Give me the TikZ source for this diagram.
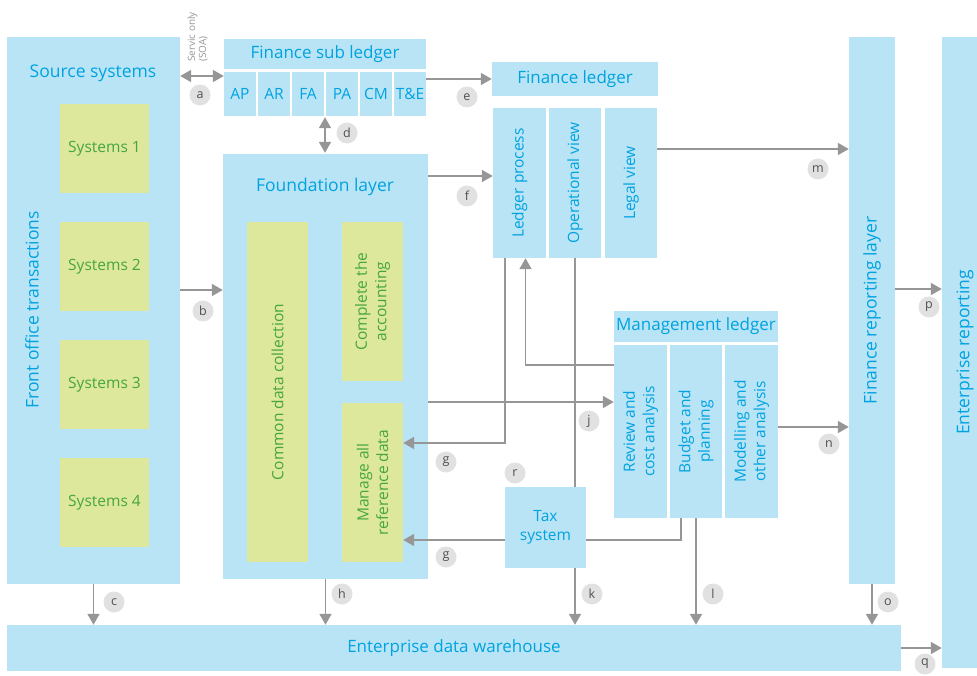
\documentclass[tikz,border=0pt]{standalone}
\usepackage{fontspec}
\setmainfont{Open Sans}
\usetikzlibrary{arrows.meta}
\definecolor{boxBlue}{RGB}{185,228,246}
\definecolor{txtBlue}{RGB}{0,163,224}
\definecolor{boxYel}{RGB}{222,232,156}
\definecolor{txtGreen}{RGB}{70,165,65}
\definecolor{arrGray}{RGB}{150,150,150}
\definecolor{circGray}{RGB}{225,225,225}
\tikzset{
	bluebox/.style={fill=boxBlue, inner sep=0pt, text=txtBlue, align=center,
		font=\fontsize{15.5}{19.5}\selectfont},
	yelbox/.style={fill=boxYel, inner sep=0pt, text=txtGreen, align=center,
		font=\fontsize{15.5}{19.5}\selectfont},
	title/.style={text=txtBlue, font=\fontsize{17.5}{21}\selectfont},
	vtxt/.style={rotate=90, align=center, font=\fontsize{15.5}{19.5}\selectfont},
	circ/.style={circle, fill=circGray, inner sep=0pt, minimum size=21pt,
		text={rgb,255:red,80;green,80;blue,80}, font=\fontsize{12.5}{14}\selectfont},
	arr/.style={draw=arrGray, line width=1.8pt, -{Triangle[length=11pt,width=12pt]}},
	darr/.style={draw=arrGray, line width=1.8pt,
		{Triangle[length=11pt,width=12pt]}-{Triangle[length=11pt,width=12pt]}},
	line/.style={draw=arrGray, line width=1.8pt}
}
\newcommand{\myLabel}[3]{
\node[circ] (#1) at (#2) {#3};
}

\begin{document}
\begin{tikzpicture}[x=1pt, y=-1pt]
	\useasboundingbox (0,0) rectangle (977,676);

	% source systems
	\node[bluebox, minimum width=173, minimum height=547] (src) at (93.5,310.5) {};
	\node[title] (srcT) at (93,73) {Source systems};
	\node[title, rotate=90] (fot) at (32,310) {Front office transactions};
	\foreach \i/\y in {1/148.5, 2/266.5, 3/384.5, 4/502.5}
		\node[yelbox, minimum width=89, minimum height=89] (sys\i) at (104.5,\y) {Systems \i};

	% finance sub ledger
	\node[bluebox, minimum width=202, minimum height=30, font=\fontsize{17}{21}\selectfont] (fsl) at (325,54) {Finance sub ledger};
	\foreach \n/\t [count=\i from 0] in {ap/AP, ar/AR, fa/FA, pa/PA, cm/CM, te/T\&E}
		\node[bluebox, minimum width=32, minimum height=44] (\n) at (240+34*\i,94) {\t};

	% finance ledger
	\node[bluebox, minimum width=166, minimum height=34, font=\fontsize{17}{21}\selectfont] (fl) at (575,79) {Finance ledger};
	\node[bluebox, minimum width=53, minimum height=150, label={[vtxt, text=txtBlue]center:Ledger process}] (lp) at (519.5,183) {};
	\node[bluebox, minimum width=52, minimum height=150, label={[vtxt, text=txtBlue]center:Operational view}] (ov) at (575,183) {};
	\node[bluebox, minimum width=52, minimum height=150, label={[vtxt, text=txtBlue]center:Legal view}] (lv) at (631,183) {};

	% foundation layer
	\node[bluebox, minimum width=205, minimum height=425] (fnd) at (325.5,366.5) {};
	\node[title] (fndT) at (325,187) {Foundation layer};
	\node[yelbox, minimum width=61, minimum height=340, label={[vtxt, text=txtGreen]center:Common data collection}] (cdc) at (277.5,392) {};
	\node[yelbox, minimum width=61, minimum height=159, label={[vtxt, text=txtGreen]center:Complete the\\accounting}] (cta) at (372.5,301.5) {};
	\node[yelbox, minimum width=61, minimum height=159, label={[vtxt, text=txtGreen]center:Manage all\\reference data}] (mrd) at (372.5,482.5) {};

	% management ledger
	\node[bluebox, minimum width=164, minimum height=31, font=\fontsize{17}{21}\selectfont] (ml) at (696,326.5) {Management ledger};
	\node[bluebox, minimum width=53, minimum height=173, label={[vtxt, text=txtBlue]center:Review and\\cost analysis}] (rca) at (640.5,431.5) {};
	\node[bluebox, minimum width=52, minimum height=173, label={[vtxt, text=txtBlue]center:Budget and\\planning}] (bp) at (696,431.5) {};
	\node[bluebox, minimum width=53, minimum height=173, label={[vtxt, text=txtBlue]center:Modelling and\\other analysis}] (moa) at (751.5,431.5) {};

	\node[bluebox, minimum width=81, minimum height=81] (tax) at (545.5,527.5) {Tax\\system};

	% reporting and warehouse
	\node[bluebox, minimum width=46, minimum height=547, label={[vtxt, text=txtBlue, font=\fontsize{17.5}{21}\selectfont]center:Finance reporting layer}] (frl) at (872,310.5) {};
	\node[bluebox, minimum width=46, minimum height=631, label={[vtxt, text=txtBlue, font=\fontsize{17.5}{21}\selectfont]center:Enterprise reporting}] (er) at (965,352.5) {};
	\node[bluebox, minimum width=894, minimum height=46, font=\fontsize{17}{21}\selectfont] (edw) at (454,648) {Enterprise data warehouse};

	\node[rotate=90, anchor=south west, align=left, text=arrGray, inner sep=0pt,
		font=\fontsize{10}{11}\selectfont] (soa) at (208,62) {Servic only\\(SOA)};

	% connectors
	\draw[darr] (src.east |- 0,76) -- (ap.west |- 0,76);
	\draw[arr] (te.east |- 0,79) -- (fl.west |- 0,79);
	\draw[darr, shorten <=1pt, shorten >=1pt] (fsl.center |- pa.south) -- (fsl.center |- fnd.north);
	\draw[arr] (src.east |- 0,290) -- (fnd.west |- 0,290);
	\draw[arr] (fnd.east |- 0,176) -- (lp.west |- 0,176);
	\draw[arr] (lv.east |- 0,149) -- (frl.west |- 0,149);
	\draw[arr] ([xshift=-14.5pt]lp.south) |- (mrd.east |- 0,443);
	\draw[arr] (rca.west |- 0,365) -| ([xshift=6pt]lp.south);
	\draw[arr] (fnd.east |- 0,402) -- (rca.west |- 0,402);
	\draw[line] (ov.south) -- (ov.south |- tax.north);
	\draw[arr] (ov.south |- tax.south) -- (ov.south |- edw.north);
	\draw[line] ([xshift=-15pt]bp.south) |- (tax.east |- 0,540);
	\draw[arr] (tax.west |- 0,540) -- (mrd.east |- 0,540);
	\draw[arr] (bp.south) -- (bp.south |- edw.north);
	\draw[arr] (moa.east |- 0,427) -- (frl.west |- 0,427);
	\draw[arr] (frl.south) -- (frl.south |- edw.north);
	\draw[arr] (frl.east |- 0,289) -- (er.west |- 0,289);
	\draw[arr] (edw.east) -- (er.west |- edw.east);
	\draw[arr] (src.south) -- (src.south |- edw.north);
	\draw[arr] (fnd.south) -- (fnd.south |- edw.north);

	% letters
	\myLabel{la}{200,95}{a}
	\myLabel{lb}{203,311}{b}
	\myLabel{lc}{114,602}{c}
	\myLabel{ld}{347,133}{d}
	\myLabel{le}{467,97}{e}
	\myLabel{lf}{467,196}{f}
	\myLabel{lg}{446,462}{g}
	\myLabel{lgg}{446,557}{g}
	\myLabel{lh}{342,594}{h}
	\myLabel{lj}{589,421}{j}
	\myLabel{lk}{592,594}{k}
	\myLabel{ll}{713,594}{l}
	\myLabel{lm}{818,169}{m}
	\myLabel{ln}{829,444}{n}
	\myLabel{lo}{888,602}{o}
	\myLabel{lp}{929,307}{p}
	\myLabel{lq}{925,664}{q}
	\myLabel{lr}{515,473}{r}
\end{tikzpicture}
\end{document}
